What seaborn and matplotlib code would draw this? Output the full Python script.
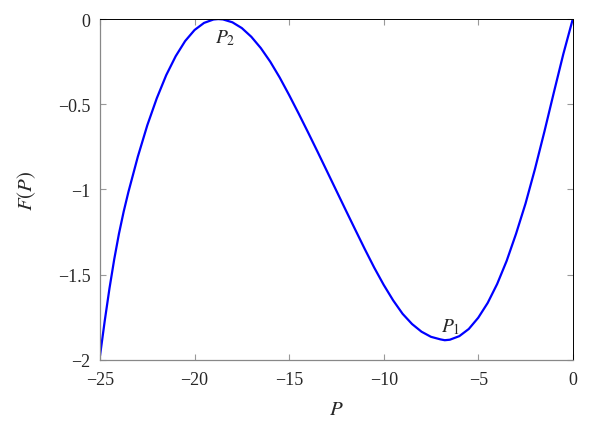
import matplotlib
matplotlib.use("Agg")
import matplotlib.pyplot as plt
import seaborn as sns
import pandas as pd

# values
p_values = [-25.0, -24.75, -24.5, -24.25, -24.0, -23.75, -23.5, -23.0,
            -22.5, -22.0, -21.5, -21.0, -20.5, -20.0, -19.5, -19.0, -18.75,
            -18.5, -18.0, -17.5, -17.0, -16.5, -16.0, -15.5, -15.0, -14.5,
            -14.0, -13.5, -13.0, -12.5, -12.0, -11.5, -11.0, -10.5, -10.0,
            -9.5, -9.0, -8.5, -8.0, -7.5, -7.0, -6.77, -6.5, -6.0, -5.5,
            -5.0, -4.5, -4.0, -3.5, -3.0, -2.5, -2.0, -1.5, -1.0, -0.5, 0.0]
f_values = [-1.975, -1.77, -1.58, -1.41, -1.26, -1.13, -1.015, -0.807,
            -0.623, -0.465, -0.329, -0.218, -0.129, -0.064, -0.0225, -0.0025,
            0.0, -0.002, -0.019, -0.053, -0.104, -0.17, -0.25, -0.343,
            -0.446, -0.554, -0.665, -0.778, -0.893, -1.008, -1.123, -1.237,
            -1.35, -1.459, -1.56, -1.651, -1.73, -1.79, -1.835, -1.865,
            -1.88, -1.885, -1.882, -1.861, -1.819, -1.753, -1.666, -1.555,
            -1.42, -1.26, -1.083, -0.88, -0.66, -0.43, -0.205, 0.0]

x_ticks = [-25, -20, -15, -10, -5, 0]
x_tick_labels = ["\u221225", "\u221220", "\u221215", "\u221210", "\u22125", "0"]
y_ticks = [0, -0.5, -1, -1.5, -2]
y_tick_labels = ["0", "\u22120.5", "\u22121", "\u22121.5", "\u22122"]

point_labels = ["$P_2$", "$P_1$"]
point_p = [-18.4, -6.45]
point_f = [-0.105, -1.80]

df = pd.DataFrame({"P": p_values, "F": f_values})

sns.set_style("white")
plt.rcParams["font.family"] = ["Liberation Serif", "DejaVu Serif"]
plt.rcParams["mathtext.fontset"] = "stix"

fig = plt.figure(figsize=(6.1, 4.27), dpi=100)
ax = fig.add_axes([0.164, 0.155, 0.775, 0.798])

sns.lineplot(data=df, x="P", y="F", color="#0000ff", linewidth=1.6, ax=ax)
ax.lines[0].set_solid_joinstyle("round")

for lab, px, fy in zip(point_labels, point_p, point_f):
    ax.text(px, fy, lab, ha="center", va="center", fontsize=14)

ax.set_xlim(-25, 0)
ax.set_ylim(-2, 0)
ax.set_xticks(x_ticks)
ax.set_xticklabels(x_tick_labels, fontsize=13)
ax.set_yticks(y_ticks)
ax.set_yticklabels(y_tick_labels, fontsize=13)

ax.tick_params(direction="in", length=4, width=0.8, color="#999999",
               top=True, right=True, bottom=True, left=True)
ax.tick_params(axis="x", pad=8)
ax.tick_params(axis="y", pad=7)

for side in ["left", "bottom"]:
    ax.spines[side].set_color("#888888")
    ax.spines[side].set_linewidth(0.9)
for side in ["top", "right"]:
    ax.spines[side].set_color("black")
    ax.spines[side].set_linestyle((0, (1, 1)))
    ax.spines[side].set_linewidth(0.7)

ax.set_xlabel("$P$", fontsize=15, labelpad=9)
ax.set_ylabel("$F(P)$", fontsize=15, labelpad=14)

fig.savefig("out.png", dpi=100)
plt.close()
